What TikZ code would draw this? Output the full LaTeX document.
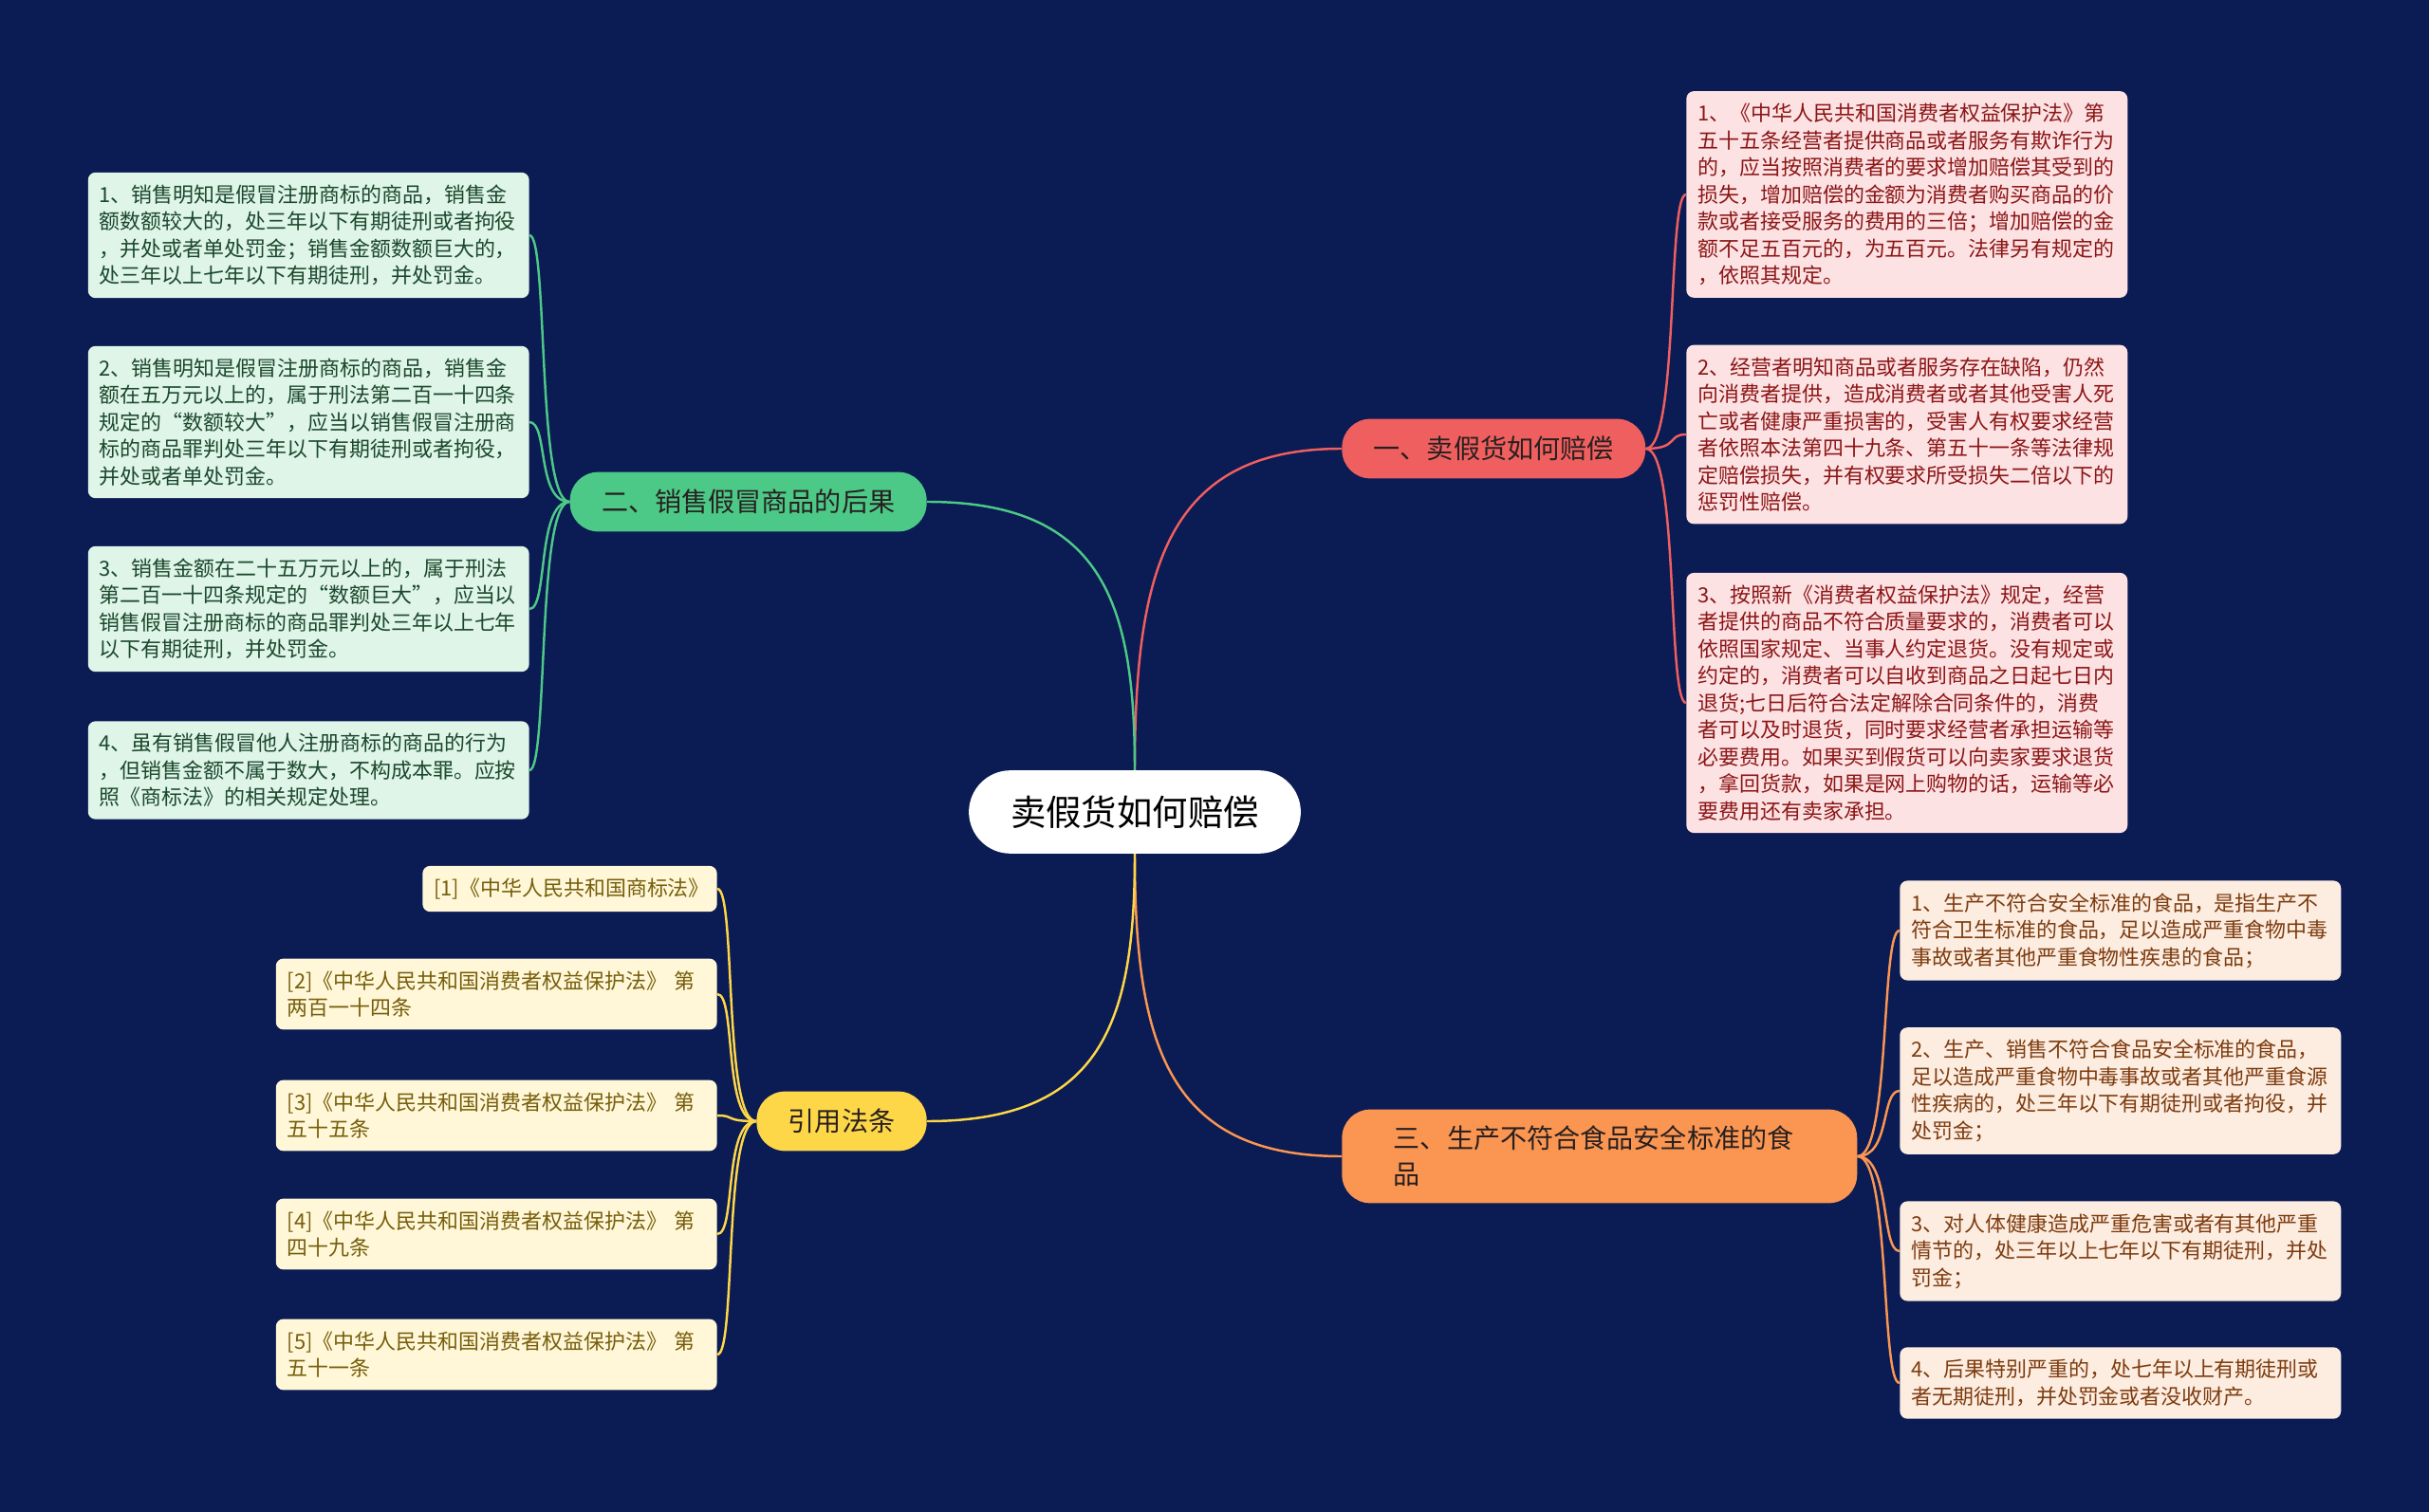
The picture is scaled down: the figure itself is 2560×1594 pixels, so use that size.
\documentclass[tikz,border=0pt]{standalone}
\usepackage{fontspec}
\setmainfont{Noto Sans CJK SC}
\usepackage{tikz}

\definecolor{bg}{RGB}{11,27,83}
\definecolor{topictext}{RGB}{40,32,32}
\definecolor{greenmain}{RGB}{76,201,135}
\definecolor{greenpale}{RGB}{222,245,232}
\definecolor{greendark}{RGB}{28,72,44}
\definecolor{redmain}{RGB}{240,95,95}
\definecolor{redpale}{RGB}{253,226,228}
\definecolor{reddark}{RGB}{140,22,22}
\definecolor{orangemain}{RGB}{251,150,82}
\definecolor{orangepale}{RGB}{253,236,224}
\definecolor{orangedark}{RGB}{125,60,15}
\definecolor{yellowmain}{RGB}{253,215,72}
\definecolor{yellowpale}{RGB}{255,247,215}
\definecolor{yellowdark}{RGB}{118,94,12}

\begin{document}
\begin{tikzpicture}[
    x=0.02cm, y=-0.02cm,
    root/.style={rectangle, rounded corners=25pt, minimum height=49.9pt, inner xsep=25pt, text centered, fill=white, text=black, font=\fontsize{21.3pt}{26pt}\selectfont},
    topic/.style={rectangle, rounded corners=17pt, minimum height=35.7pt, inner xsep=19pt, inner ysep=9.9pt, text=topictext, font=\fontsize{16pt}{21.5pt}\selectfont},
    leaf/.style={rectangle, rounded corners=4.5pt, text width=251pt, align=left, inner xsep=6.8pt, inner ysep=7.4pt, font=\fontsize{12.5pt}{16.2pt}\selectfont},
    greenleaf/.style={leaf, fill=greenpale, text=greendark},
    redleaf/.style={leaf, fill=redpale, text=reddark},
    orangeleaf/.style={leaf, fill=orangepale, text=orangedark},
    yellowleaf/.style={leaf, fill=yellowpale, text=yellowdark},
    link/.style={line width=1.4pt}
]
\fill [bg] (0,0) rectangle (2560,1594);
\useasboundingbox (0,0) rectangle (2560,1594);

\node (root) [root] at (1196,856) {卖假货如何赔偿};

\node (pay) [topic, fill=redmain, anchor=west] at (1414,473) {一、卖假货如何赔偿};
\node (fake) [topic, fill=greenmain, anchor=east] at (977,529) {二、销售假冒商品的后果};
\node (food) [topic, fill=orangemain, anchor=west, align=left, text width=247pt, inner xsep=31pt] at (1414,1219) {三、生产不符合食品安全标准的食\\品};
\node (law) [topic, fill=yellowmain, anchor=east] at (977,1182) {引用法条};

% 二、销售假冒商品的后果
\node (fake1) [greenleaf, anchor=east] at (558,248) {1、销售明知是假冒注册商标的商品，销售金\\额数额较大的，处三年以下有期徒刑或者拘役\\，并处或者单处罚金；销售金额数额巨大的，\\处三年以上七年以下有期徒刑，并处罚金。};
\node (fake2) [greenleaf, anchor=east] at (558,445) {2、销售明知是假冒注册商标的商品，销售金\\额在五万元以上的，属于刑法第二百一十四条\\规定的“数额较大”，应当以销售假冒注册商\\标的商品罪判处三年以下有期徒刑或者拘役，\\并处或者单处罚金。};
\node (fake3) [greenleaf, anchor=east] at (558,642) {3、销售金额在二十五万元以上的，属于刑法\\第二百一十四条规定的“数额巨大”，应当以\\销售假冒注册商标的商品罪判处三年以上七年\\以下有期徒刑，并处罚金。};
\node (fake4) [greenleaf, anchor=east] at (558,812) {4、虽有销售假冒他人注册商标的商品的行为\\，但销售金额不属于数大，不构成本罪。应按\\照《商标法》的相关规定处理。};

% 一、卖假货如何赔偿
\node (pay1) [redleaf, anchor=west] at (1777,205) {1、《中华人民共和国消费者权益保护法》第\\五十五条经营者提供商品或者服务有欺诈行为\\的，应当按照消费者的要求增加赔偿其受到的\\损失，增加赔偿的金额为消费者购买商品的价\\款或者接受服务的费用的三倍；增加赔偿的金\\额不足五百元的，为五百元。法律另有规定的\\，依照其规定。};
\node (pay2) [redleaf, anchor=west] at (1777,458) {2、经营者明知商品或者服务存在缺陷，仍然\\向消费者提供，造成消费者或者其他受害人死\\亡或者健康严重损害的，受害人有权要求经营\\者依照本法第四十九条、第五十一条等法律规\\定赔偿损失，并有权要求所受损失二倍以下的\\惩罚性赔偿。};
\node (pay3) [redleaf, anchor=west] at (1777,741) {3、按照新《消费者权益保护法》规定，经营\\者提供的商品不符合质量要求的，消费者可以\\依照国家规定、当事人约定退货。没有规定或\\约定的，消费者可以自收到商品之日起七日内\\退货;七日后符合法定解除合同条件的，消费\\者可以及时退货，同时要求经营者承担运输等\\必要费用。如果买到假货可以向卖家要求退货\\，拿回货款，如果是网上购物的话，运输等必\\要费用还有卖家承担。};

% 三、生产不符合食品安全标准的食品
\node (food1) [orangeleaf, anchor=west] at (2002,981) {1、生产不符合安全标准的食品，是指生产不\\符合卫生标准的食品，足以造成严重食物中毒\\事故或者其他严重食物性疾患的食品；};
\node (food2) [orangeleaf, anchor=west] at (2002,1150) {2、生产、销售不符合食品安全标准的食品，\\足以造成严重食物中毒事故或者其他严重食源\\性疾病的，处三年以下有期徒刑或者拘役，并\\处罚金；};
\node (food3) [orangeleaf, anchor=west] at (2002,1319) {3、对人体健康造成严重危害或者有其他严重\\情节的，处三年以上七年以下有期徒刑，并处\\罚金；};
\node (food4) [orangeleaf, anchor=west] at (2002,1458) {4、后果特别严重的，处七年以上有期徒刑或\\者无期徒刑，并处罚金或者没收财产。};

% 引用法条
\node (law1) [yellowleaf, anchor=east, text width=163pt] at (756,937) {[1]《中华人民共和国商标法》};
\node (law2) [yellowleaf, anchor=east] at (756,1048) {[2]《中华人民共和国消费者权益保护法》 第\\两百一十四条};
\node (law3) [yellowleaf, anchor=east] at (756,1176) {[3]《中华人民共和国消费者权益保护法》 第\\五十五条};
\node (law4) [yellowleaf, anchor=east] at (756,1301) {[4]《中华人民共和国消费者权益保护法》 第\\四十九条};
\node (law5) [yellowleaf, anchor=east] at (756,1428) {[5]《中华人民共和国消费者权益保护法》 第\\五十一条};

\draw [link, draw=redmain] (root.north) .. controls +(0,-212) and +(-184,0) .. (pay.west);
\draw [link, draw=greenmain] (root.north) .. controls +(0,-178) and +(184,0) .. (fake.east);
\draw [link, draw=orangemain] (root.south) .. controls +(0,200) and +(-184,0) .. (food.west);
\draw [link, draw=yellowmain] (root.south) .. controls +(0,178) and +(184,0) .. (law.east);

\draw [link, draw=greenmain] (fake.west) .. controls +(-35,0) and +(20,0) .. (fake1.east);
\draw [link, draw=greenmain] (fake.west) .. controls +(-35,0) and +(20,0) .. (fake2.east);
\draw [link, draw=greenmain] (fake.west) .. controls +(-35,0) and +(20,0) .. (fake3.east);
\draw [link, draw=greenmain] (fake.west) .. controls +(-35,0) and +(20,0) .. (fake4.east);

\draw [link, draw=redmain] (pay.east) .. controls +(35,0) and +(-20,0) .. (pay1.west);
\draw [link, draw=redmain] (pay.east) .. controls +(35,0) and +(-20,0) .. (pay2.west);
\draw [link, draw=redmain] (pay.east) .. controls +(35,0) and +(-20,0) .. (pay3.west);

\draw [link, draw=orangemain] (food.east) .. controls +(35,0) and +(-20,0) .. (food1.west);
\draw [link, draw=orangemain] (food.east) .. controls +(35,0) and +(-20,0) .. (food2.west);
\draw [link, draw=orangemain] (food.east) .. controls +(35,0) and +(-20,0) .. (food3.west);
\draw [link, draw=orangemain] (food.east) .. controls +(35,0) and +(-20,0) .. (food4.west);

\draw [link, draw=yellowmain] (law.west) .. controls +(-35,0) and +(20,0) .. (law1.east);
\draw [link, draw=yellowmain] (law.west) .. controls +(-35,0) and +(20,0) .. (law2.east);
\draw [link, draw=yellowmain] (law.west) .. controls +(-35,0) and +(20,0) .. (law3.east);
\draw [link, draw=yellowmain] (law.west) .. controls +(-35,0) and +(20,0) .. (law4.east);
\draw [link, draw=yellowmain] (law.west) .. controls +(-35,0) and +(20,0) .. (law5.east);

\end{tikzpicture}
\end{document}
